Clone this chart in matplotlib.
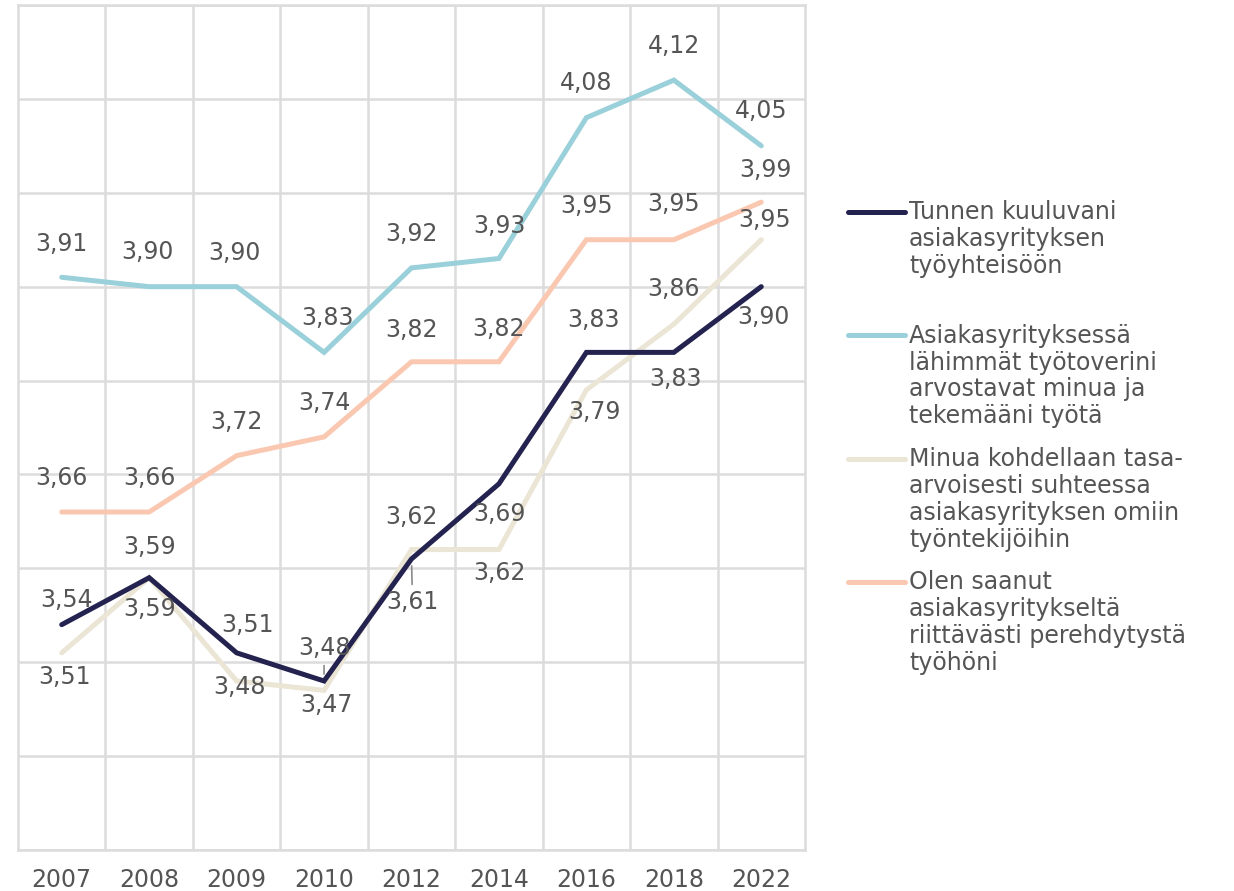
import matplotlib.pyplot as plt
import matplotlib as mpl
from matplotlib.lines import Line2D

mpl.rcParams.update({"font.family": "DejaVu Sans", "font.size": 17})
TXT, GRID = "#555555", "#dcdcdc"

years = ["2007", "2008", "2009", "2010", "2012", "2014", "2016", "2018", "2022"]
names = ["Tunnen kuuluvani\nasiakasyrityksen\ntyöyhteisöön",
         "Asiakasyrityksessä\nlähimmät työtoverini\narvostavat minua ja\ntekemääni työtä",
         "Minua kohdellaan tasa-\narvoisesti suhteessa\nasiakasyrityksen omiin\ntyöntekijöihin",
         "Olen saanut\nasiakasyritykseltä\nriittävästi perehdytystä\ntyöhöni"]
belong = [3.54, 3.59, 3.51, 3.48, 3.61, 3.69, 3.83, 3.83, 3.90]
valued = [3.91, 3.90, 3.90, 3.83, 3.92, 3.93, 4.08, 4.12, 4.05]
equal = [3.51, 3.59, 3.48, 3.47, 3.62, 3.62, 3.79, 3.86, 3.95]
onboard = [3.66, 3.66, 3.72, 3.74, 3.82, 3.82, 3.95, 3.95, 3.99]
series = [belong, valued, equal, onboard]
colors = ["#24224f", "#99d0da", "#ebe5d5", "#fac8b1"]
zorders = [6, 3, 4, 3]

# label offsets in pixels (dx, dy), per series
offs = [
    [(5, 25), (0, 31), (11, 28), (0, 33), (1, -43), (0, -30), (7, 32), (2, -27), (2, -30)],
    [(0, 33), (-2, 35), (-2, 34), (3, 34), (0, 34), (0, 33), (0, 35), (0, 34), (0, 35)],
    [(3, -24), (0, -31), (3, -6), (2, -15), (0, 33), (0, -23), (8, -22), (0, 35), (3, 20)],
    [(0, 34), (0, 34), (0, 34), (0, 34), (0, 32), (0, 33), (0, 34), (0, 36), (4, 32)],
]
leaders = {(0, 3), (0, 4)}

fig = plt.figure(figsize=(12.34, 8.91), dpi=100)
ax = fig.add_axes([18 / 1234, 1 - 850 / 891, 787 / 1234, 845 / 891])
x = list(range(len(years)))

for k, (vals, c) in enumerate(zip(series, colors)):
    ax.plot(x, vals, color=c, lw=3.6, solid_capstyle="round", solid_joinstyle="miter", zorder=zorders[k])
    for i, v in enumerate(vals):
        dx, dy = offs[k][i]
        kw = {}
        if (k, i) in leaders:
            kw["arrowprops"] = dict(arrowstyle="-", color="#8a8a8a", lw=1.2, shrinkA=2, shrinkB=5)
        ax.annotate(f"{v:.2f}".replace(".", ","), (i, v), xytext=(dx, dy), textcoords="offset pixels",
                    ha="center", va="center", color=TXT, fontsize=17, zorder=10, **kw)

ax.set_xlim(-0.5, 8.5)
ax.set_ylim(3.3, 4.2)
ax.set_yticks([3.3 + 0.1 * j for j in range(10)])
ax.set_yticklabels([])
ax.set_xticks(x)
ax.set_xticklabels(years, color=TXT)
ax.set_xticks([i + 0.5 for i in x[:-1]], minor=True)
ax.tick_params(axis="both", which="both", length=0)
ax.tick_params(axis="x", pad=13)
ax.grid(True, which="major", axis="y", color=GRID, lw=1.8)
ax.grid(True, which="minor", axis="x", color=GRID, lw=1.8)
ax.set_axisbelow(True)
for s in ax.spines.values():
    s.set_color(GRID)
    s.set_linewidth(1.8)

# legend: handle aligned with the first text line (va="baseline" pins the last line)
W, H = 1234, 891
for j, (name, c) in enumerate(zip(names, colors)):
    hy = 212 + 123.3 * j
    fig.add_artist(Line2D([848 / W, 905 / W], [1 - hy / H, 1 - hy / H], color=c, lw=3.6,
                          solid_capstyle="round"))
    last = hy + 7 + 27 * name.count("\n")
    fig.text(909 / W, 1 - last / H, name, ha="left", va="baseline", color=TXT,
             fontsize=17, linespacing=1.15)

fig.savefig("out.png", dpi=100, facecolor="white")
